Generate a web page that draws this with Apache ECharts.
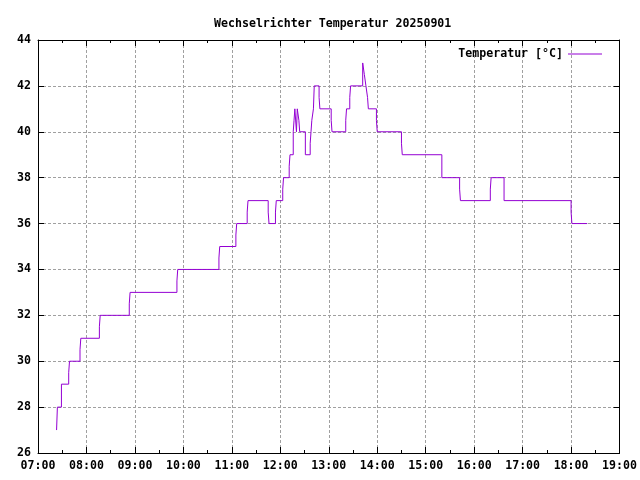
<!DOCTYPE html>
<html>
<head>
<meta charset="utf-8">
<script src="https://cdn.jsdelivr.net/npm/echarts@6/dist/echarts.min.js"></script>
<style>html,body{margin:0;padding:0;background:#fff}#c{width:640px;height:480px}</style>
</head>
<body>
<div id="c"></div>
<script>
const titleText = "Wechselrichter Temperatur 20250901";
const seriesName = "Temperatur [°C]";
const times = ["07:23","07:24","07:29","07:38","07:39","07:52","07:53","08:16","08:17","08:53","08:54",
  "09:52","09:53","10:44","10:45","11:05","11:06","11:19","11:20","11:45","11:46","11:54","11:55",
  "12:03","12:04","12:11","12:12","12:16","12:17","12:18","12:20","12:21","12:23","12:24","12:31",
  "12:37","12:38","12:39","12:41","12:42","12:48","12:49","13:03","13:04","13:21","13:22","13:26",
  "13:27","13:42","13:44","13:46","13:48","13:49","13:59","14:00","14:30","14:31","15:20","15:42",
  "15:43","16:20","16:21","16:37","18:00","18:01","18:20"];
const temps = [27,28,29,29.5,30,30.5,31,31.5,32,32.5,33,
  33.5,34,34.5,35,35.5,36,36.5,37,36.5,36,36.5,37,
  37.5,38,38.5,39,40,40.5,41,40,41,40.5,40,39,
  39.5,40,40.5,41,42,41.5,41,40.5,40,40.5,41,41.5,
  42,43,42.5,42,41.5,41,40.5,40,39.5,39,38,37.5,
  37,37.5,38,37,36.5,36,36];
const xMinMinutes = 420, xMaxMinutes = 1140, xStep = 60;
const yMin = 26, yMax = 44, yStep = 2;

function toMin(s){const p=s.split(':');return (+p[0])*60+(+p[1]);}
function pad(n){return (n<10?'0':'')+n;}
const data = times.map((t,i)=>[toMin(t), temps[i]]);

const font = {fontFamily:'"DejaVu Sans Mono", "Liberation Mono", monospace', fontWeight:'bold', fontSize:11.6, color:'#000'};
const gridLine = {show:true, lineStyle:{color:'#a0a0a0', width:1, type:[3,2]}};
const axisLine = {show:true, onZero:false, lineStyle:{color:'#000', width:1}};

const chart = echarts.init(document.getElementById('c'), null, {renderer:'canvas'});
chart.setOption({
  animation:false,
  backgroundColor:'#fff',
  title:{text:titleText, left:209, top:13, textStyle:Object.assign({}, font)},
  legend:{data:[{name:seriesName, icon:'rect'}], right:33, top:43, align:'right', itemWidth:34, itemHeight:1,
    textStyle:Object.assign({}, font), itemGap:0, itemStyle:{color:'#9400D3', borderWidth:0}},
  grid:{left:38, right:20, top:40, bottom:27, containLabel:false},
  xAxis:[
    {type:'value', min:xMinMinutes, max:xMaxMinutes, interval:xStep, position:'bottom',
     axisLine:axisLine, axisTick:{show:true, inside:true, length:6, lineStyle:{color:'#000'}},
     minorTick:{show:true, splitNumber:2, length:3, lineStyle:{color:'#000'}},
     splitLine:gridLine,
     axisLabel:Object.assign({margin:7, formatter:v=>pad(Math.floor(v/60))+':'+pad(v%60)}, font)},
    {type:'value', min:xMinMinutes, max:xMaxMinutes, interval:xStep, position:'top',
     axisLine:axisLine, axisTick:{show:true, inside:true, length:6, lineStyle:{color:'#000'}},
     minorTick:{show:true, splitNumber:2, length:3, lineStyle:{color:'#000'}},
     splitLine:{show:false}, axisLabel:{show:false}}
  ],
  yAxis:[
    {type:'value', min:yMin, max:yMax, interval:yStep, position:'left',
     axisLine:axisLine, axisTick:{show:true, inside:true, length:6, lineStyle:{color:'#000'}},
     splitLine:gridLine,
     axisLabel:Object.assign({margin:7}, font)},
    {type:'value', min:yMin, max:yMax, interval:yStep, position:'right',
     axisLine:axisLine, axisTick:{show:true, inside:true, length:6, lineStyle:{color:'#000'}},
     splitLine:{show:false}, axisLabel:{show:false}}
  ],
  series:[{
    name:seriesName, type:'line', step:'end', data:data, xAxisIndex:0, yAxisIndex:0,
    showSymbol:false, symbol:'none', lineStyle:{color:'#9400D3', width:1}, itemStyle:{color:'#9400D3'}
  }]
});
</script>
</body>
</html>
